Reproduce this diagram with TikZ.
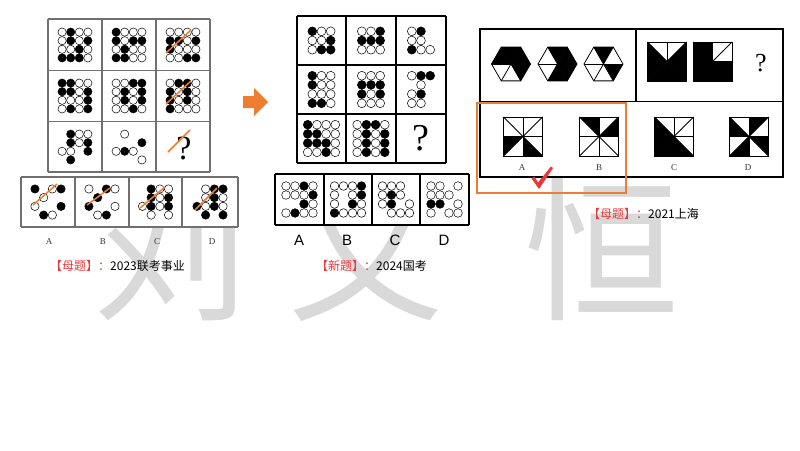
\documentclass[tikz,border=0pt]{standalone}
\usepackage{fontspec}
\newfontfamily\cjk{Noto Sans CJK SC}
\newfontfamily\optserif{Liberation Serif}
\newfontfamily\optsans{Liberation Sans}
\definecolor{markorange}{HTML}{ED7D31}
\definecolor{markred}{HTML}{E8383D}
\definecolor{wmgray}{HTML}{D9D9D9}
\definecolor{gridgray}{HTML}{707070}

\tikzstyle{dot_black} = [draw=black, fill=black, line width=0.5pt]
\tikzstyle{dot_white} = [draw=black, fill=white, line width=0.5pt]
\tikzstyle{slash} = [draw=markorange, line width=1.5pt]
\tikzstyle{grid_line} = [draw=gridgray, line width=1.4pt]
\tikzstyle{frame_line} = [draw=black, line width=1.2pt]
\tikzstyle{fig_line} = [draw=black, line width=0.8pt]
\tikzstyle{watermark} = [text=wmgray, font=\cjk\fontsize{155}{155}\selectfont, inner sep=0pt]
\tikzstyle{caption} = [anchor=west, font=\cjk\fontsize{12}{12}\selectfont, inner sep=0pt]
\tikzstyle{letter_serif} = [font=\optserif\fontsize{9}{9}\selectfont, text=black!80]
\tikzstyle{letter_sans} = [font=\optsans\fontsize{15}{15}\selectfont]
\tikzstyle{query} = [font=\optserif\fontsize{38}{38}\selectfont, inner sep=0pt]

\newcommand{\dotcell}[6]{%
  \begin{scope}[shift={#1}, x=#2, y=-#2]
    \foreach \cx/\ry in {#5} \draw[dot_black] (\cx-#3,\ry-#4) circle[radius=0.48];
    \foreach \cx/\ry in {#6} \draw[dot_white] (\cx-#3,\ry-#4) circle[radius=0.48];
  \end{scope}}

\newcommand{\hexcell}[2]{%
  \begin{scope}[shift={#1}]
    \foreach \s in {#2} \fill (0,0) -- (-\s*60:19.5) -- (-\s*60-60:19.5) -- cycle;
    \foreach \s in {0,...,5} \draw[fig_line] (0,0) -- (-\s*60:19.5);
    \draw[fig_line] (0:19.5) -- (-60:19.5) -- (-120:19.5) -- (180:19.5) -- (-240:19.5) -- (-300:19.5) -- cycle;
  \end{scope}}

\newcommand{\eightsq}[2]{%
  \begin{scope}[shift={#1}]
    \foreach \m/\px/\py in {0/1/0,1/1/-1,2/0/-1,3/-1/-1,4/-1/0,5/-1/1,6/0/1,7/1/1,8/1/0}
      \coordinate (sq\m) at (19.5*\px,19.5*\py);
    \foreach \s in {#2} {
      \pgfmathtruncatemacro{\sn}{\s+1}
      \fill (0,0) -- (sq\s) -- (sq\sn) -- cycle;
    }
    \foreach \m in {0,...,7} \draw[fig_line] (0,0) -- (sq\m);
    \draw[fig_line] (sq1) rectangle (sq5);
  \end{scope}}

\begin{document}
\begin{tikzpicture}[x=1pt, y=-1pt]
    \useasboundingbox (0,0) rectangle (800,450);
    \fill[white] (0,0) rectangle (800,450);

    \node[watermark] (wm_liu) at (171,250) {刘};
    \node[watermark] (wm_wen) at (366,250) {文};
    \node[watermark] (wm_heng) at (602,250) {恒};

    % 2023 puzzle
    \fill[white] (48,19) rectangle (210,172);
    \foreach \x in {48,102,156,210} \draw[grid_line] (\x,19) -- (\x,172);
    \foreach \y in {19,70.5,121.5,172} \draw[grid_line] (48,\y) -- (210,\y);

    \dotcell{(75,45)}{8.6pt}{2.5}{2.5}{2/1,2/2,4/2,3/3,1/4,2/4,3/4}{1/1,3/1,4/1,1/2,3/2,1/3,2/3,4/3,4/4}
    \dotcell{(129,45)}{8.6pt}{2.5}{2.5}{1/1,1/2,3/2,4/2,2/3,1/4,2/4}{2/1,3/1,4/1,2/2,1/3,3/3,4/3,3/4,4/4}
    \dotcell{(183,45)}{8.6pt}{2.5}{2.5}{1/2,2/2,4/2,1/3,3/4,4/4}{1/1,2/1,3/1,4/1,3/2,2/3,3/3,4/3,1/4,2/4}
    \dotcell{(75,96)}{8.6pt}{2.5}{2.5}{1/1,2/1,1/2,2/2,4/2,4/3,2/4,4/4}{3/1,4/1,3/2,1/3,2/3,3/3,1/4,3/4}
    \dotcell{(129,96)}{8.6pt}{2.5}{2.5}{3/1,4/1,2/2,4/2,2/3,4/3,3/4}{1/1,2/1,1/2,3/2,1/3,3/3,1/4,2/4,4/4}
    \dotcell{(183,96)}{8.6pt}{2.5}{2.5}{2/1,3/1,1/2,3/2,1/3,3/3,1/4}{1/1,4/1,2/2,4/2,2/3,4/3,2/4,3/4,4/4}
    \dotcell{(75,147)}{8.6pt}{2.5}{2.5}{2/1,2/2,4/2,4/3,2/4}{3/1,4/1,3/2,1/3,2/3}
    \dotcell{(129,147)}{8.6pt}{2.5}{2.5}{4/2,2/3}{2/1,1/3,3/3,4/4}
    \node[query, font=\optserif\fontsize{34}{34}\selectfont] (q_left) at (184,148) {?};
    \draw[slash] (166,53) -- (191,30);
    \draw[slash] (166,104) -- (191,81);
    \draw[slash] (168,152) -- (190,130);

    \fill[white] (21,177) rectangle (238,227);
    \foreach \x in {21,75,129,182,238} \draw[grid_line] (\x,177) -- (\x,227);
    \foreach \y in {177,227} \draw[grid_line] (21,\y) -- (238,\y);
    \dotcell{(48,202)}{8.7pt}{2.5}{2.5}{1/1,4/1,4/3,2/4}{3/1,2/2,1/3,3/4}
    \dotcell{(102,202)}{8.7pt}{2.5}{2.5}{3/1,2/2,1/3,3/4}{1/1,4/1,4/3,2/4}
    \dotcell{(155.5,202)}{8.7pt}{2.5}{2.5}{2/1,2/2,4/2,2/3,4/3}{3/1,4/1,3/2,1/3,3/3,2/4,4/4}
    \dotcell{(210,202)}{8.7pt}{2.5}{2.5}{3/1,4/1,3/2,1/3,3/3,2/4,4/4}{2/1,2/2,4/2,2/3,4/3}
    \draw[slash] (33,205) -- (57,184);
    \draw[slash] (87,205) -- (110,188);
    \draw[slash] (140,208) -- (165,187);
    \draw[slash] (195,210) -- (217,188);
    \foreach \name/\x in {A/49,B/103,C/157,D/212}
        \node[letter_serif] (left_opt_\name) at (\x,242) {\name};

    \fill[markorange] (243,96) -- (254,96) -- (254,88) -- (268,102) -- (254,116) -- (254,108) -- (243,108) -- cycle;

    % 2024 puzzle
    \fill[white] (297,16) rectangle (446,163);
    \foreach \x in {297,346,396,446} \draw[frame_line] (\x,16) -- (\x,163);
    \foreach \y in {16,65,114,163} \draw[frame_line] (297,\y) -- (446,\y);

    \dotcell{(321.5,40.5)}{9.2pt}{2}{2}{1/1,3/2,2/3,3/3}{2/1,3/1,1/2,2/2,1/3}
    \dotcell{(371,40.5)}{9.2pt}{2}{2}{3/1,1/2,2/2,3/2}{1/1,2/1,1/3,2/3,3/3}
    \dotcell{(421,40.5)}{9.2pt}{2}{2}{2/1,1/3}{1/1,1/2,2/2,2/3,3/3}
    \dotcell{(321.5,89.5)}{9.2pt}{2}{2.5}{1/1,1/2,1/4,2/4}{2/1,3/1,2/2,3/2,1/3,2/3,3/3,3/4}
    \dotcell{(371,89.5)}{9.2pt}{2}{2.5}{1/2,2/2,3/2,1/3,3/3}{1/1,2/1,3/1,2/3,1/4,2/4,3/4}
    \dotcell{(421,89.5)}{9.2pt}{2}{2.5}{2/1,3/1,2/3}{1/1,2/2,1/3,1/4,2/4}
    \dotcell{(321.5,138.5)}{9.2pt}{2.5}{2.5}{1/1,1/2,2/2,1/3,2/3,3/3,3/4}{2/1,3/1,4/1,3/2,4/2,4/3,1/4,2/4,4/4}
    \dotcell{(371,138.5)}{9.2pt}{2.5}{2.5}{2/1,3/1,2/2,4/2,2/3,4/3,2/4,4/4}{1/1,4/1,1/2,3/2,1/3,3/3,1/4,3/4}
    \node[query] (q_mid) at (421,138.5) {?};

    \fill[white] (275,174) rectangle (469,225);
    \foreach \x in {275,324,372,420,469} \draw[frame_line] (\x,174) -- (\x,225);
    \foreach \y in {174,225} \draw[frame_line] (275,\y) -- (469,\y);
    \dotcell{(299.5,199.5)}{9pt}{2.5}{2.5}{3/1,4/2,3/3,2/4}{1/1,2/1,4/1,1/2,2/2,3/2,4/3,1/4,3/4,4/4}
    \dotcell{(348,199.5)}{9pt}{2.5}{2.5}{4/1,4/2,3/3,1/4}{1/1,2/1,3/1,1/2,3/2,1/3,4/3,2/4,3/4,4/4}
    \dotcell{(396,199.5)}{9pt}{2.5}{2.5}{2/2,2/3}{1/1,2/1,3/1,1/2,3/2,1/3,4/3,2/4,3/4,4/4}
    \dotcell{(444.5,199.5)}{9pt}{2.5}{2.5}{1/3,2/3}{1/1,2/1,4/1,1/2,2/2,3/2,4/3,1/4,3/4,4/4}
    \foreach \name/\x in {A/299,B/347,C/395,D/444}
        \node[letter_sans] (mid_opt_\name) at (\x,240) {\name};

    % 2021 puzzle
    \fill[white] (480,29) rectangle (783,177);
    \draw[frame_line] (480,29) rectangle (783,177);
    \draw[frame_line] (480,101.5) -- (783,101.5);
    \draw[frame_line] (636,29) -- (636,101.5);
    \hexcell{(511,64)}{0,1,2,5}
    \hexcell{(557.5,64)}{0,1,4,5}
    \hexcell{(603.5,64)}{1,5}
    \eightsq{(667,61.5)}{0,3,4,5,6,7}
    \eightsq{(712.5,61.5)}{2,3,4,5,6,7}
    \node[query, font=\optserif\fontsize{26}{26}\selectfont] (q_right) at (761,63) {?};
    \eightsq{(523,136.5)}{4,6}
    \eightsq{(599,136.5)}{0,2}
    \eightsq{(674,136.5)}{3,4,5,6}
    \eightsq{(749,136.5)}{1,3,5,7}
    \foreach \name/\x in {A/522,B/599,C/674,D/748}
        \node[letter_serif] (right_opt_\name) at (\x,168) {\name};
    \draw[markorange, line width=1.5pt] (477,103) rectangle (626,193);
    \fill[markred] (531.5,178.5) -- (534.5,176.5) -- (538,182.5) -- (551,166.5) -- (553,168) -- (539,189) -- cycle;

    \node[caption] (cap_left) at (50,266) {\textcolor{markred}{【母题】：}2023联考事业};
    \node[caption] (cap_mid) at (316,266) {\textcolor{markred}{【新题】：}2024国考};
    \node[caption] (cap_right) at (588,214) {\textcolor{markred}{【母题】：}2021上海};
\end{tikzpicture}
\end{document}
